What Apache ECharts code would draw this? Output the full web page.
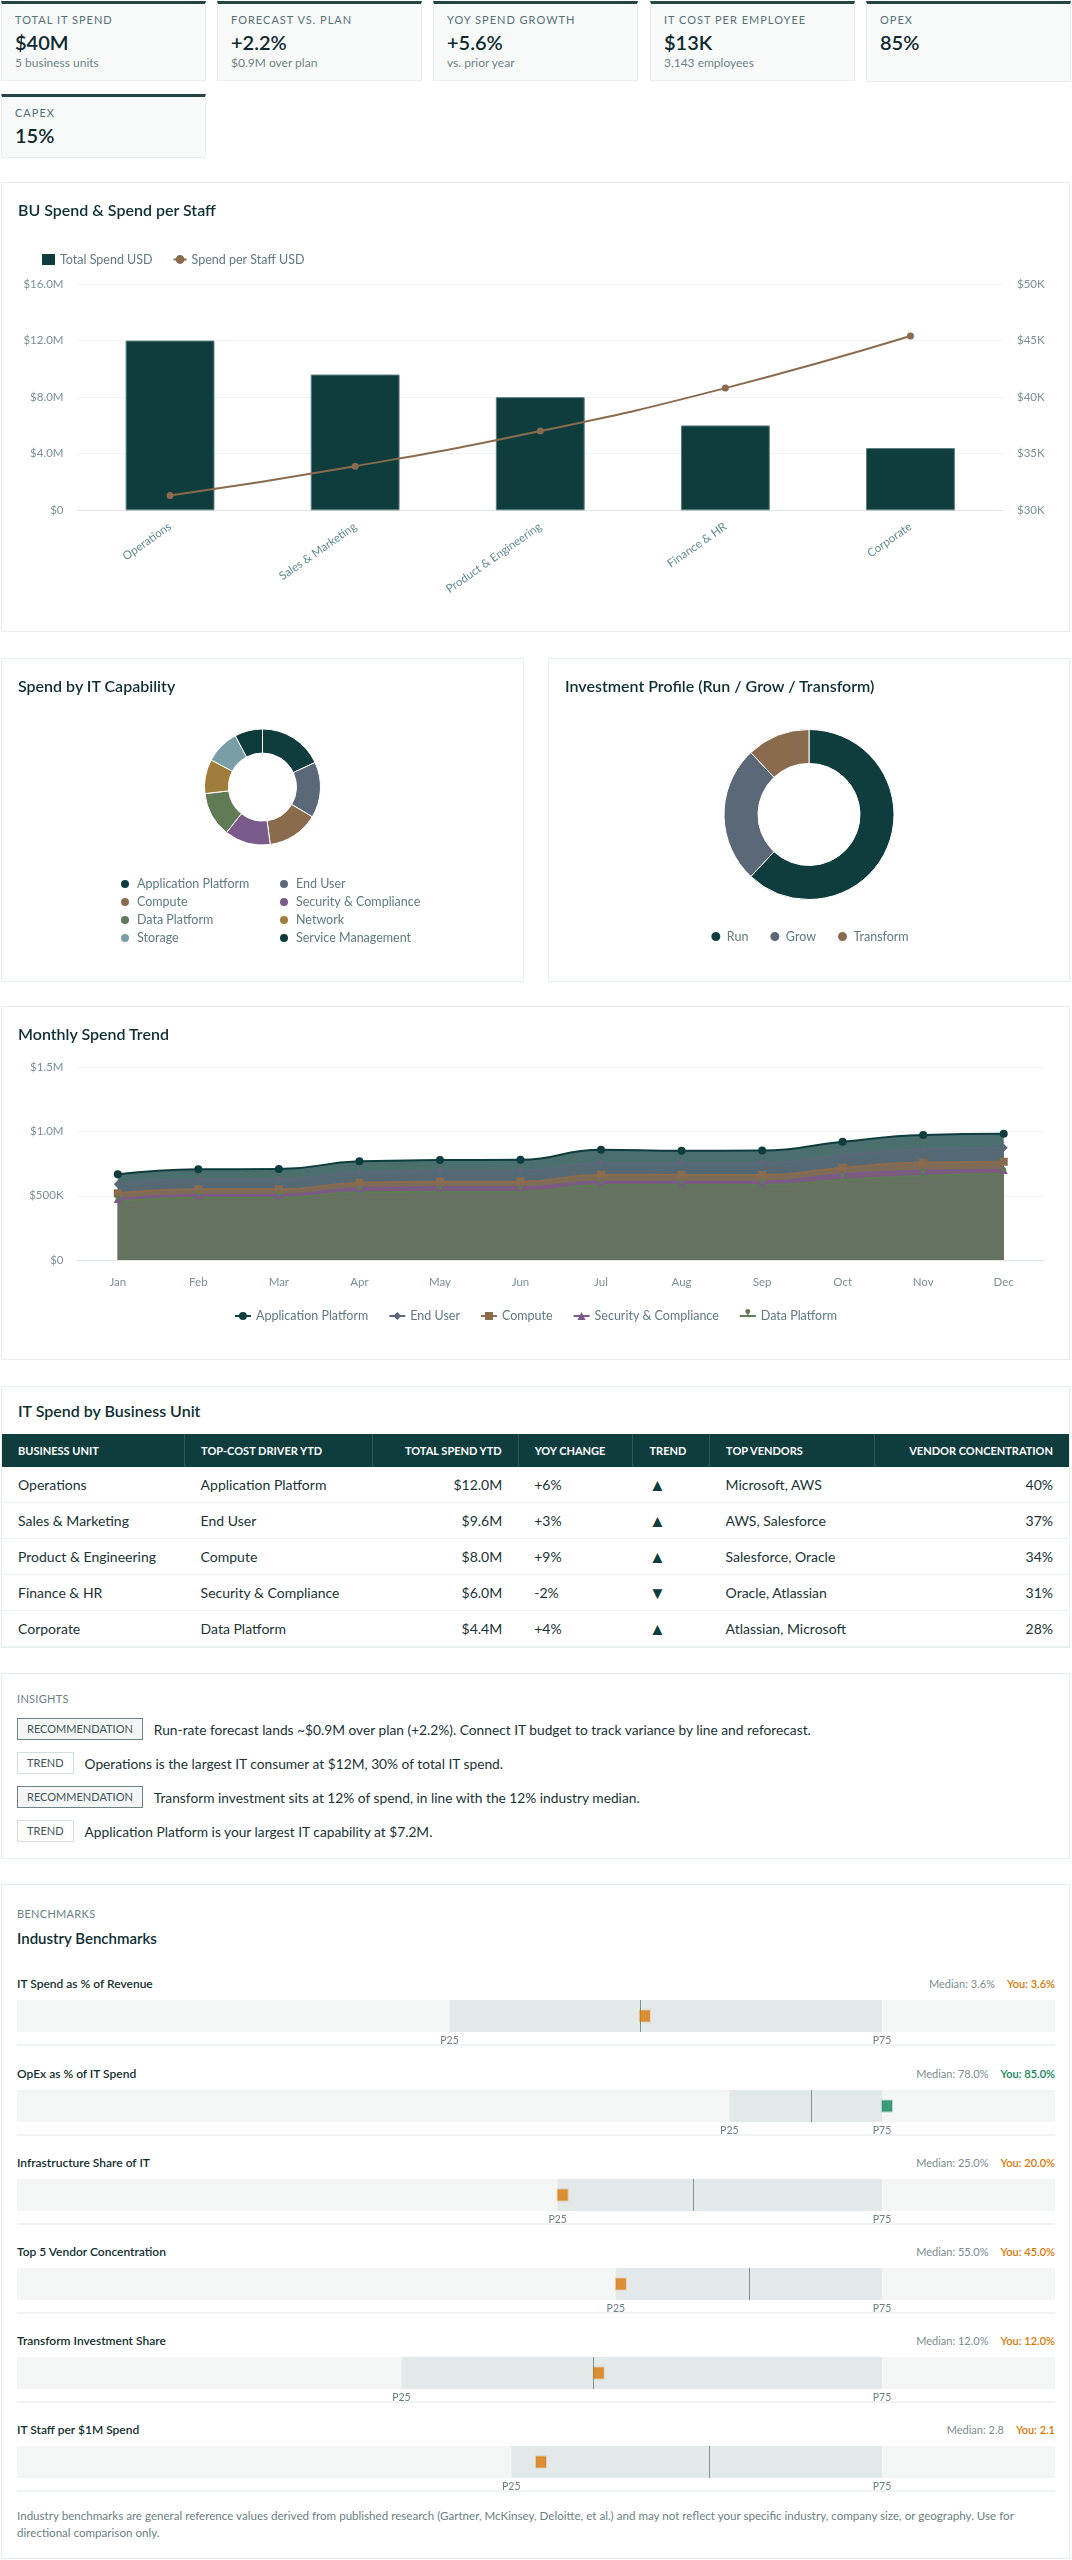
<!DOCTYPE html>
<html>
<head>
<meta charset="utf-8">
<title>IT Spend Overview</title>
<script src="https://cdn.jsdelivr.net/npm/echarts@6.0.0/dist/echarts.min.js"></script>
<style>
  body { margin:0; background:#fff; font-family: Lato, "Noto Sans", sans-serif; color:#12302f; }
  #page { position:relative; width:1072px; height:2560px; overflow:hidden; }
  .kpi { position:absolute; box-sizing:border-box; width:205px; background:#f8fafa; border:1px solid #e8eded; border-top:3px solid #264646; padding:9px 13px 10px; }
  .kpi .lbl { font-size:11px; line-height:14px; letter-spacing:1px; color:#557074; text-transform:uppercase; }
  .kpi .val { font-size:20px; line-height:24px; font-weight:600; color:#0f2a2e; margin-top:3px; }
  .kpi .sub { font-size:12px; line-height:14px; color:#6f8285; margin-top:2px; }
  .card { position:absolute; box-sizing:border-box; background:#fff; border:1px solid #e8eded; }
  .title { position:absolute; left:16px; font-size:16px; line-height:20px; font-weight:600; color:#0f2f33; white-space:nowrap; }
  .chart { position:absolute; left:0; top:0; right:0; bottom:0; }
  table { position:absolute; left:0; top:47px; width:1067px; border-collapse:collapse; table-layout:fixed; }
  th { background:#0f3d3e; color:#fff; font-size:11px; font-weight:700; text-transform:uppercase; height:33px; padding:0 16px; text-align:left; border-left:1px solid #2c5858; white-space:nowrap; }
  th:first-child { border-left:none; }
  td { font-size:14px; color:#1a3336; height:35px; padding:0 16px; border-bottom:1px solid #eef2f2; white-space:nowrap; }
  td.arrow { font-size:17px; color:#0f3d3e; }
  .r { text-align:right; }
  .eyebrow { position:absolute; left:15px; font-size:11px; line-height:14px; color:#6b7f83; text-transform:uppercase; letter-spacing:0.3px; }
  .ins { position:absolute; left:15px; height:22px; display:flex; align-items:center; font-size:13.75px; color:#1a3336; white-space:nowrap; }
  .badge { box-sizing:border-box; height:22px; line-height:20px; padding:0 9px; font-size:11px; text-transform:uppercase; color:#3f5556; margin-right:11px; }
  .badge.rec { background:#f4f5f5; border:1px solid #6d8282; }
  .badge.trd { background:#fff; border:1px solid #d5dede; }
  .bname { position:absolute; left:15px; font-size:12px; line-height:16px; font-weight:600; color:#12302f; }
  .bvals { position:absolute; right:14px; font-size:11px; line-height:16px; color:#7a8c8f; white-space:nowrap; }
  .bvals b { font-weight:600; margin-left:12px; }
  .bchart { position:absolute; left:15px; width:1038px; height:48px; }
  .bsep { position:absolute; left:15px; width:1038px; height:2px; background:#f0f3f3; }
  .foot { position:absolute; left:15px; width:1040px; font-size:11.6px; line-height:17.3px; color:#6b7f83; }
</style>
</head>
<body>
<div id="page">
  <div class="kpi" style="left:1px;top:1px;"><div class="lbl">Total IT Spend</div><div class="val">$40M</div><div class="sub">5 business units</div></div>
  <div class="kpi" style="left:217px;top:1px;"><div class="lbl">Forecast vs. Plan</div><div class="val">+2.2%</div><div class="sub">$0.9M over plan</div></div>
  <div class="kpi" style="left:433px;top:1px;"><div class="lbl">YoY Spend Growth</div><div class="val">+5.6%</div><div class="sub">vs. prior year</div></div>
  <div class="kpi" style="left:650px;top:1px;"><div class="lbl">IT Cost per Employee</div><div class="val">$13K</div><div class="sub">3,143 employees</div></div>
  <div class="kpi" style="left:866px;top:1px;height:81px;"><div class="lbl">OpEx</div><div class="val">85%</div></div>
  <div class="kpi" style="left:1px;top:94px;"><div class="lbl">CapEx</div><div class="val">15%</div></div>

  <div class="card" style="left:1px;top:182px;width:1069px;height:450px;">
    <div class="chart" id="buChart"></div>
    <div class="title" style="top:17px;">BU Spend &amp; Spend per Staff</div>
  </div>

  <div class="card" style="left:1px;top:658px;width:523px;height:324px;">
    <div class="chart" id="capChart"></div>
    <div class="title" style="top:17px;">Spend by IT Capability</div>
  </div>
  <div class="card" style="left:548px;top:658px;width:522px;height:324px;">
    <div class="chart" id="mixChart"></div>
    <div class="title" style="top:17px;">Investment Profile (Run / Grow / Transform)</div>
  </div>

  <div class="card" style="left:1px;top:1006px;width:1069px;height:354px;">
    <div class="chart" id="trendChart"></div>
    <div class="title" style="top:17px;">Monthly Spend Trend</div>
  </div>

  <div class="card" style="left:1px;top:1386px;width:1069px;height:262px;">
    <div class="title" style="top:14px;">IT Spend by Business Unit</div>
    <table id="buTable">
      <colgroup><col style="width:182.6px"><col style="width:188px"><col style="width:145.6px"><col style="width:114.8px"><col style="width:76.6px"><col style="width:164.8px"><col style="width:194.6px"></colgroup>
      <thead><tr><th>Business Unit</th><th>Top-Cost Driver YTD</th><th class="r">Total Spend YTD</th><th>YoY Change</th><th>Trend</th><th>Top Vendors</th><th class="r">Vendor Concentration</th></tr></thead>
      <tbody></tbody>
    </table>
  </div>

  <div class="card" style="left:1px;top:1673px;width:1069px;height:186px;" id="insCard">
    <div class="eyebrow" style="top:18px;">Insights</div>
  </div>

  <div class="card" style="left:1px;top:1884px;width:1069px;height:675px;" id="benchCard">
    <div class="eyebrow" style="top:22px;">Benchmarks</div>
    <div class="title" style="top:43px;left:15px;font-size:15px;">Industry Benchmarks</div>
    <div class="foot" style="top:622px;">Industry benchmarks are general reference values derived from published research (Gartner, McKinsey, Deloitte, et al.) and may not reflect your specific industry, company size, or geography. Use for directional comparison only.</div>
  </div>
</div>

<script>
// business units
const buNames = ['Operations', 'Sales & Marketing', 'Product & Engineering', 'Finance & HR', 'Corporate'];
const buSpend = [12.0e6, 9.6e6, 8.0e6, 6.0e6, 4.4e6];
const buPerStaff = [31300, 33900, 37000, 40800, 45400];
const buDriver = ['Application Platform', 'End User', 'Compute', 'Security & Compliance', 'Data Platform'];
const buYoy = ['+6%', '+3%', '+9%', '-2%', '+4%'];
const buTrend = ['▲', '▲', '▲', '▼', '▲'];
const buVendors = ['Microsoft, AWS', 'AWS, Salesforce', 'Salesforce, Oracle', 'Oracle, Atlassian', 'Atlassian, Microsoft'];
const buConc = ['40%', '37%', '34%', '31%', '28%'];

// capabilities ($M)
const capNames = ['Application Platform', 'End User', 'Compute', 'Security & Compliance', 'Data Platform', 'Network', 'Storage', 'Service Management'];
const capSpend = [7.2, 6.2, 5.7, 5.1, 5.0, 3.8, 3.8, 3.1];

// run / grow / transform (%)
const mixNames = ['Run', 'Grow', 'Transform'];
const mixShare = [62, 26, 12];

// monthly trend ($K)
const months = ['Jan', 'Feb', 'Mar', 'Apr', 'May', 'Jun', 'Jul', 'Aug', 'Sep', 'Oct', 'Nov', 'Dec'];
const trendNames = ['Application Platform', 'End User', 'Compute', 'Security & Compliance', 'Data Platform'];
const appPlatform = [667, 706, 708, 768, 778, 780, 859, 851, 853, 921, 973, 983];
const endUser = [589, 630, 630, 687, 698, 698, 758, 758, 758, 817, 864, 874];
const compute = [519, 550, 550, 602, 610, 610, 664, 662, 662, 719, 758, 765];
const security = [475, 506, 506, 558, 566, 566, 610, 610, 610, 667, 695, 700];
const dataPlatform = [454, 485, 485, 527, 531, 531, 584, 584, 584, 623, 656, 669];

// insights
const insightTags = ['Recommendation', 'Trend', 'Recommendation', 'Trend'];
const insightText = [
  'Run-rate forecast lands ~$0.9M over plan (+2.2%). Connect IT budget to track variance by line and reforecast.',
  'Operations is the largest IT consumer at $12M, 30% of total IT spend.',
  'Transform investment sits at 12% of spend, in line with the 12% industry median.',
  'Application Platform is your largest IT capability at $7.2M.'
];

// benchmarks
const benchNames = ['IT Spend as % of Revenue', 'OpEx as % of IT Spend', 'Infrastructure Share of IT', 'Top 5 Vendor Concentration', 'Transform Investment Share', 'IT Staff per $1M Spend'];
const benchP25 = [2.5, 70, 20, 45, 8, 2.0];
const benchMedian = [3.6, 78, 25, 55, 12, 2.8];
const benchP75 = [5.0, 85, 32, 65, 18, 3.5];
const benchYou = [3.6, 85, 20, 45, 12, 2.1];
const benchUnit = ['%', '%', '%', '%', '%', ''];
const benchGood = [false, true, false, false, false, false];

const teal = '#0f3d3e';
const capColors = ['#0f3d3e', '#5a6878', '#8b6b4e', '#7a5a8a', '#5f7a55', '#a07d3a', '#7a9ea6', '#0d3a3b'];
const mixColors = ['#0f3d3e', '#5a6878', '#8b6b4e'];
const trendColors = ['#0f3d3e', '#5a6878', '#8b6b4e', '#7a5a8a', '#5f7a55'];
const trendSymbols = ['circle', 'diamond', 'rect', 'triangle', 'pin'];
const font = 'Lato';

const fmtM = v => v === 0 ? '$0' : '$' + (v / 1e6).toFixed(1) + 'M';

// BU spend chart
const buChart = echarts.init(document.getElementById('buChart'));
buChart.setOption({
  animation: false,
  textStyle: { fontFamily: font },
  legend: {
    left: 35, top: 65, itemWidth: 13, itemHeight: 11, itemGap: 20,
    textStyle: { color: '#5f7a80', fontSize: 12.5 },
    data: [{ name: 'Total Spend USD', icon: 'rect', itemStyle: { borderWidth: 0 } }, { name: 'Spend per Staff USD' }]
  },
  grid: { left: 75.5, right: 66, top: 101, bottom: 120.7 },
  xAxis: {
    type: 'category', data: buNames,
    axisTick: { show: false },
    axisLine: { lineStyle: { color: '#dfe5e5' } },
    axisLabel: { rotate: 35, margin: 15, color: '#5f8a8f', fontSize: 11.5 }
  },
  yAxis: [
    { type: 'value', min: 0, max: 16e6, interval: 4e6,
      axisLabel: { formatter: fmtM, color: '#7d8f92', fontSize: 11.5, margin: 14 },
      splitLine: { lineStyle: { color: '#f2f4f4' } } },
    { type: 'value', min: 30000, max: 50000, interval: 5000, position: 'right',
      axisLabel: { formatter: v => '$' + v / 1000 + 'K', color: '#7d8f92', fontSize: 11.5, margin: 14 },
      splitLine: { show: false } }
  ],
  series: [
    { name: 'Total Spend USD', type: 'bar', data: buSpend, barWidth: '48%',
      itemStyle: { color: teal, borderColor: '#5a7f7f', borderWidth: 1 } },
    { name: 'Spend per Staff USD', type: 'line', yAxisIndex: 1, data: buPerStaff, smooth: true,
      symbol: 'circle', symbolSize: 7, itemStyle: { color: '#8b6b4e' }, lineStyle: { width: 2, color: '#8b6b4e' } }
  ]
});

// capability donut
const capChart = echarts.init(document.getElementById('capChart'));
const capLegend = (names, left) => ({
  data: names, orient: 'vertical', left: left, top: 213, icon: 'circle',
  itemWidth: 14, itemHeight: 10, itemGap: 4,
  textStyle: { color: '#5f7a80', fontSize: 12.5, lineHeight: 14 }
});
capChart.setOption({
  animation: false,
  textStyle: { fontFamily: font },
  legend: [capLegend(capNames.filter((_, i) => i % 2 === 0), 112), capLegend(capNames.filter((_, i) => i % 2 === 1), 271)],
  series: [{
    type: 'pie', radius: [34, 58], center: ['50%', 128], startAngle: 90, clockwise: true,
    label: { show: false }, labelLine: { show: false },
    itemStyle: { borderColor: '#fff', borderWidth: 1 },
    data: capNames.map((n, i) => ({ name: n, value: capSpend[i], itemStyle: { color: capColors[i] } }))
  }]
});

// run / grow / transform donut
const mixChart = echarts.init(document.getElementById('mixChart'));
mixChart.setOption({
  animation: false,
  textStyle: { fontFamily: font },
  legend: {
    data: mixNames, left: 'center', top: 266, icon: 'circle', itemWidth: 12, itemHeight: 11, itemGap: 20,
    textStyle: { color: '#5f7a80', fontSize: 12.5 }
  },
  series: [{
    type: 'pie', radius: [51, 85], center: ['50%', 155.5], startAngle: 90, clockwise: true,
    label: { show: false }, labelLine: { show: false },
    itemStyle: { borderColor: '#fff', borderWidth: 1 },
    data: mixNames.map((n, i) => ({ name: n, value: mixShare[i], itemStyle: { color: mixColors[i] } }))
  }]
});

// monthly trend
const trendData = [appPlatform, endUser, compute, security, dataPlatform];
const trendChart = echarts.init(document.getElementById('trendChart'));
trendChart.setOption({
  animation: false,
  textStyle: { fontFamily: font },
  legend: {
    data: trendNames, left: 'center', top: 297, itemWidth: 16, itemHeight: 10, itemGap: 20,
    textStyle: { color: '#5f7a80', fontSize: 12.5 }
  },
  grid: { left: 75.5, right: 25, top: 60.3, bottom: 99 },
  xAxis: {
    type: 'category', data: months, boundaryGap: true,
    axisTick: { show: false },
    axisLine: { lineStyle: { color: '#dfe5e5' } },
    axisLabel: { color: '#7d8f92', fontSize: 11.5, margin: 16 }
  },
  yAxis: {
    type: 'value', min: 0, max: 1500, interval: 500,
    axisLabel: { formatter: v => v === 0 ? '$0' : (v >= 1000 ? '$' + (v / 1000).toFixed(1) + 'M' : '$' + v + 'K'), color: '#7d8f92', fontSize: 11.5, margin: 14 },
    splitLine: { lineStyle: { color: '#f2f4f4' } }
  },
  series: trendNames.map((n, i) => ({
    name: n, type: 'line', data: trendData[i], smooth: true,
    symbol: trendSymbols[i], symbolSize: 8,
    lineStyle: { width: 2, color: trendColors[i] },
    itemStyle: { color: trendColors[i] },
    areaStyle: { color: trendColors[i], opacity: 0.75 }
  }))
});

// table
const tbody = document.querySelector('#buTable tbody');
buNames.forEach((n, i) => {
  const tr = document.createElement('tr');
  tr.innerHTML = '<td>' + n + '</td><td>' + buDriver[i] + '</td><td class="r">' + fmtM(buSpend[i]) + '</td><td>' + buYoy[i] +
    '</td><td class="arrow">' + buTrend[i] + '</td><td>' + buVendors[i] + '</td><td class="r">' + buConc[i] + '</td>';
  tbody.appendChild(tr);
});

// insights
const insCard = document.getElementById('insCard');
insightText.forEach((t, i) => {
  const row = document.createElement('div');
  row.className = 'ins';
  row.style.top = (44.3 + 34 * i) + 'px';
  const cls = insightTags[i] === 'Trend' ? 'trd' : 'rec';
  row.innerHTML = '<span class="badge ' + cls + '">' + insightTags[i] + '</span><span>' + t.replace(/\$/g, '&#36;') + '</span>';
  insCard.appendChild(row);
});

// benchmarks
const benchCard = document.getElementById('benchCard');
benchNames.forEach((nm, i) => {
  const y = 99.3 + 89.2 * i;
  const youColor = benchGood[i] ? '#10855b' : '#d97706';
  const haloColor = benchGood[i] ? 'rgba(16,133,91,0.3)' : 'rgba(217,119,6,0.3)';
  const fmt = v => (benchUnit[i] ? v.toFixed(1) : String(v)) + benchUnit[i];

  const name = document.createElement('div');
  name.className = 'bname'; name.style.top = (y - 8) + 'px'; name.textContent = nm;
  const vals = document.createElement('div');
  vals.className = 'bvals'; vals.style.top = (y - 8) + 'px';
  vals.innerHTML = 'Median: ' + fmt(benchMedian[i]) + '<b style="color:' + youColor + '">You: ' + fmt(benchYou[i]) + '</b>';
  const box = document.createElement('div');
  box.className = 'bchart'; box.style.top = (y + 16) + 'px';
  const sep = document.createElement('div');
  sep.className = 'bsep'; sep.style.top = (y + 60) + 'px';
  benchCard.appendChild(name); benchCard.appendChild(vals); benchCard.appendChild(box); benchCard.appendChild(sep);

  const ch = echarts.init(box);
  ch.setOption({
    animation: false,
    textStyle: { fontFamily: font },
    grid: { left: 0, right: 0, top: 0, height: 32, show: true, backgroundColor: '#f4f6f6', borderWidth: 0 },
    xAxis: {
      type: 'value', min: 0, max: benchP75[i] * 1.2,
      axisLine: { show: false }, axisTick: { show: false }, splitLine: { show: false },
      axisLabel: {
        customValues: [benchP25[i], benchP75[i]],
        formatter: v => Math.abs(v - benchP25[i]) < 1e-9 ? 'P25' : 'P75',
        color: '#6b7f83', fontSize: 10.5, margin: 3
      }
    },
    yAxis: { type: 'value', min: 0, max: 1, show: false },
    series: [{
      type: 'scatter', data: [[benchYou[i], 0.5]], symbol: 'rect', symbolSize: [10, 11], symbolOffset: [5, 0],
      itemStyle: { color: youColor, borderColor: haloColor, borderWidth: 2 }, z: 5,
      markArea: { silent: true, itemStyle: { color: '#e3e9e9' }, data: [[{ xAxis: benchP25[i] }, { xAxis: benchP75[i] }]] },
      markLine: { silent: true, symbol: 'none', label: { show: false },
        lineStyle: { color: '#7f9292', width: 1, type: 'solid' }, data: [{ xAxis: benchMedian[i] }] }
    }]
  });
});
</script>
</body>
</html>
